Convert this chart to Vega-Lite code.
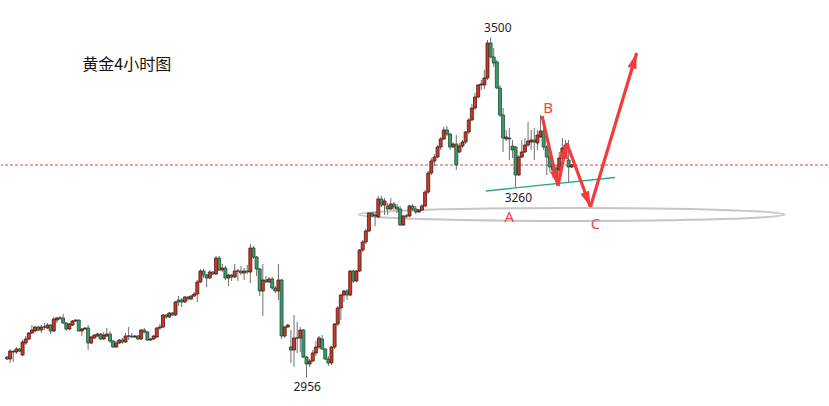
{
"$schema": "https://vega.github.io/schema/vega-lite/v6.json",
"width": 829, "height": 406,
"autosize": {"type": "fit", "contains": "padding"},
"padding": 0,
"background": "white",
"config": {"view": {"stroke": null}},
"datasets": {
"candles": [
{"i":0,"o":2988.8,"h":2990.4,"l":2984,"c":2985.6},
{"i":1,"o":2985.6,"h":3001.6,"l":2979.2,"c":2998.4},
{"i":2,"o":2996.8,"h":3000,"l":2980.8,"c":2997.6},
{"i":3,"o":2996.8,"h":3004.8,"l":2993.6,"c":3001.6},
{"i":4,"o":3001.6,"h":3003.2,"l":2996.8,"c":2998.4},
{"i":5,"o":2992,"h":3016,"l":2990.4,"c":3012.8},
{"i":6,"o":3011.2,"h":3022.4,"l":3008,"c":3017.6},
{"i":7,"o":3017.6,"h":3028.8,"l":3016,"c":3027.2},
{"i":8,"o":3027.2,"h":3040,"l":3025.6,"c":3032},
{"i":9,"o":3030.4,"h":3038.4,"l":3028.8,"c":3036.8},
{"i":10,"o":3036.8,"h":3038.4,"l":3030.4,"c":3032},
{"i":11,"o":3032,"h":3040,"l":3027.2,"c":3036.8},
{"i":12,"o":3036.8,"h":3043.2,"l":3032,"c":3036.8},
{"i":13,"o":3035.2,"h":3043.2,"l":3033.6,"c":3040},
{"i":14,"o":3040,"h":3041.6,"l":3025.6,"c":3030.4},
{"i":15,"o":3030.4,"h":3052.8,"l":3028.8,"c":3049.6},
{"i":16,"o":3048,"h":3052.8,"l":3043.2,"c":3051.2},
{"i":17,"o":3051.2,"h":3054.4,"l":3048,"c":3051.2},
{"i":18,"o":3051.2,"h":3057.6,"l":3041.6,"c":3043.2},
{"i":19,"o":3043.2,"h":3044.8,"l":3030.4,"c":3033.6},
{"i":20,"o":3033.6,"h":3043.2,"l":3032,"c":3041.6},
{"i":21,"o":3040,"h":3048,"l":3038.4,"c":3046.4},
{"i":22,"o":3046.4,"h":3048.8,"l":3044.8,"c":3048},
{"i":23,"o":3048,"h":3048.8,"l":3029.6,"c":3030.4},
{"i":24,"o":3030.4,"h":3035.2,"l":3022.4,"c":3033.6},
{"i":25,"o":3033.6,"h":3036.8,"l":3032,"c":3035.2},
{"i":26,"o":3035.2,"h":3040,"l":3000,"c":3011.2},
{"i":27,"o":3011.2,"h":3022.4,"l":3009.6,"c":3020.8},
{"i":28,"o":3019.2,"h":3025.6,"l":3017.6,"c":3024},
{"i":29,"o":3022.4,"h":3027.2,"l":3020.8,"c":3025.6},
{"i":30,"o":3025.6,"h":3027.2,"l":3016,"c":3017.6},
{"i":31,"o":3017.6,"h":3028.8,"l":3016,"c":3024},
{"i":32,"o":3022.4,"h":3035.2,"l":3020.8,"c":3025.6},
{"i":33,"o":3025.6,"h":3030.4,"l":3011.2,"c":3014.4},
{"i":34,"o":3014.4,"h":3016,"l":3003.2,"c":3004.8},
{"i":35,"o":3004.8,"h":3014.4,"l":3003.2,"c":3011.2},
{"i":36,"o":3011.2,"h":3017.6,"l":3009.6,"c":3016},
{"i":37,"o":3016,"h":3019.2,"l":3009.6,"c":3012.8},
{"i":38,"o":3012.8,"h":3027.2,"l":3011.2,"c":3022.4},
{"i":39,"o":3022.4,"h":3036.8,"l":3016,"c":3022.4},
{"i":40,"o":3022.4,"h":3027.2,"l":3019.2,"c":3020.8},
{"i":41,"o":3020.8,"h":3024,"l":3019.2,"c":3022.4},
{"i":42,"o":3022.4,"h":3024,"l":3016,"c":3017.6},
{"i":43,"o":3017.6,"h":3033.6,"l":3016,"c":3032},
{"i":44,"o":3032,"h":3035.2,"l":3027.2,"c":3028.8},
{"i":45,"o":3028.8,"h":3030.4,"l":3014.4,"c":3016},
{"i":46,"o":3016,"h":3019.2,"l":3014.4,"c":3017.6},
{"i":47,"o":3017.6,"h":3024,"l":3016,"c":3022.4},
{"i":48,"o":3020.8,"h":3036.8,"l":3019.2,"c":3035.2},
{"i":49,"o":3035.2,"h":3041.6,"l":3032,"c":3036.8},
{"i":50,"o":3036.8,"h":3057.6,"l":3035.2,"c":3056},
{"i":51,"o":3056,"h":3057.6,"l":3049.6,"c":3052.8},
{"i":52,"o":3052.8,"h":3060.8,"l":3051.2,"c":3059.2},
{"i":53,"o":3059.2,"h":3060.8,"l":3054.4,"c":3056},
{"i":54,"o":3056,"h":3078.4,"l":3054.4,"c":3076.8},
{"i":55,"o":3080,"h":3086.4,"l":3070.4,"c":3076.8},
{"i":56,"o":3080,"h":3083.2,"l":3068.8,"c":3076.8},
{"i":57,"o":3076.8,"h":3086.4,"l":3075.2,"c":3084.8},
{"i":58,"o":3084.8,"h":3086.4,"l":3078.4,"c":3081.6},
{"i":59,"o":3081.6,"h":3088,"l":3080,"c":3086.4},
{"i":60,"o":3086.4,"h":3092.8,"l":3084.8,"c":3089.6},
{"i":61,"o":3089.6,"h":3112,"l":3076.8,"c":3108.8},
{"i":62,"o":3108.8,"h":3129.6,"l":3107.2,"c":3126.4},
{"i":63,"o":3126.4,"h":3129.6,"l":3115.2,"c":3120},
{"i":64,"o":3120,"h":3121.6,"l":3100.8,"c":3115.2},
{"i":65,"o":3115.2,"h":3128,"l":3113.6,"c":3124.8},
{"i":66,"o":3124.8,"h":3126.4,"l":3120,"c":3121.6},
{"i":67,"o":3121.6,"h":3150.4,"l":3120,"c":3147.2},
{"i":68,"o":3147.2,"h":3150.4,"l":3126.4,"c":3128},
{"i":69,"o":3128,"h":3137.6,"l":3124.8,"c":3131.2},
{"i":70,"o":3131.2,"h":3134.4,"l":3112,"c":3115.2},
{"i":71,"o":3115.2,"h":3121.6,"l":3102.4,"c":3120},
{"i":72,"o":3120,"h":3121.6,"l":3110.4,"c":3116.8},
{"i":73,"o":3116.8,"h":3137.6,"l":3115.2,"c":3126.4},
{"i":74,"o":3126.4,"h":3129.6,"l":3110.4,"c":3126.4},
{"i":75,"o":3126.4,"h":3134.4,"l":3120,"c":3123.2},
{"i":76,"o":3123.2,"h":3131.2,"l":3112,"c":3126.4},
{"i":77,"o":3126.4,"h":3136,"l":3121.6,"c":3124.8},
{"i":78,"o":3124.8,"h":3169.6,"l":3107.2,"c":3163.2},
{"i":79,"o":3163.2,"h":3166.4,"l":3145.6,"c":3148.8},
{"i":80,"o":3148.8,"h":3150.4,"l":3118.4,"c":3129.6},
{"i":81,"o":3129.6,"h":3131.2,"l":3086.4,"c":3094.4},
{"i":82,"o":3094.4,"h":3137.6,"l":3054.4,"c":3112},
{"i":83,"o":3112,"h":3118.4,"l":3107.2,"c":3108.8},
{"i":84,"o":3108.8,"h":3116.8,"l":3107.2,"c":3113.6},
{"i":85,"o":3113.6,"h":3116.8,"l":3096,"c":3099.2},
{"i":86,"o":3099.2,"h":3102.4,"l":3091.2,"c":3094.4},
{"i":87,"o":3094.4,"h":3137.6,"l":3080,"c":3112},
{"i":88,"o":3112,"h":3113.6,"l":3017.6,"c":3022.4},
{"i":89,"o":3022.4,"h":3038.4,"l":3019.2,"c":3036.8},
{"i":90,"o":3036.8,"h":3041.6,"l":3035.2,"c":3040},
{"i":91,"o":3004.8,"h":3032,"l":2979.2,"c":3000},
{"i":92,"o":3000,"h":3056,"l":2972.8,"c":3019.2},
{"i":93,"o":3019.2,"h":3044.8,"l":2995.2,"c":3019.2},
{"i":94,"o":3019.2,"h":3036.8,"l":2996.8,"c":3032},
{"i":95,"o":3032,"h":3033.6,"l":2987.2,"c":2988.8},
{"i":96,"o":2988.8,"h":2990.4,"l":2956,"c":2977.6},
{"i":97,"o":2977.6,"h":2985.6,"l":2972.8,"c":2982.4},
{"i":98,"o":2982.4,"h":3000,"l":2980.8,"c":2995.2},
{"i":99,"o":2995.2,"h":3014.4,"l":2990.4,"c":3004.8},
{"i":100,"o":3004.8,"h":3022.4,"l":3001.6,"c":3019.2},
{"i":101,"o":3017.6,"h":3024,"l":3000,"c":3001.6},
{"i":102,"o":3001.6,"h":3003.2,"l":2984,"c":2985.6},
{"i":103,"o":2985.6,"h":2990.4,"l":2974.4,"c":2979.2},
{"i":104,"o":2979.2,"h":3006.4,"l":2976,"c":3004.8},
{"i":105,"o":3004.8,"h":3043.2,"l":3001.6,"c":3041.6},
{"i":106,"o":3041.6,"h":3070.4,"l":3038.4,"c":3067.2},
{"i":107,"o":3067.2,"h":3089.6,"l":3048,"c":3088},
{"i":108,"o":3088,"h":3096,"l":3076.8,"c":3094.4},
{"i":109,"o":3094.4,"h":3097.6,"l":3080,"c":3088},
{"i":110,"o":3088,"h":3128,"l":3086.4,"c":3126.4},
{"i":111,"o":3126.4,"h":3128,"l":3107.2,"c":3110.4},
{"i":112,"o":3110.4,"h":3128,"l":3108.8,"c":3126.4},
{"i":113,"o":3126.4,"h":3161.6,"l":3124.8,"c":3160},
{"i":114,"o":3160,"h":3176,"l":3156.8,"c":3172.8},
{"i":115,"o":3172.8,"h":3193.6,"l":3169.6,"c":3190.4},
{"i":116,"o":3190.4,"h":3220.8,"l":3188.8,"c":3219.2},
{"i":117,"o":3219.2,"h":3220.8,"l":3212.8,"c":3214.4},
{"i":118,"o":3214.4,"h":3220.8,"l":3198.4,"c":3216},
{"i":119,"o":3212.8,"h":3246.4,"l":3211.2,"c":3241.6},
{"i":120,"o":3241.6,"h":3246.4,"l":3228.8,"c":3232},
{"i":121,"o":3232,"h":3243.2,"l":3216,"c":3238.4},
{"i":122,"o":3230.4,"h":3235.2,"l":3216,"c":3225.6},
{"i":123,"o":3225.6,"h":3243.2,"l":3224,"c":3233.6},
{"i":124,"o":3233.6,"h":3236.8,"l":3224,"c":3228.8},
{"i":125,"o":3228.8,"h":3233.6,"l":3219.2,"c":3225.6},
{"i":126,"o":3225.6,"h":3230.4,"l":3198.4,"c":3200},
{"i":127,"o":3200,"h":3216,"l":3198.4,"c":3214.4},
{"i":128,"o":3214.4,"h":3217.6,"l":3211.2,"c":3214.4},
{"i":129,"o":3214.4,"h":3232,"l":3212.8,"c":3230.4},
{"i":130,"o":3230.4,"h":3233.6,"l":3222.4,"c":3225.6},
{"i":131,"o":3225.6,"h":3230.4,"l":3217.6,"c":3220.8},
{"i":132,"o":3220.8,"h":3225.6,"l":3219.2,"c":3224},
{"i":133,"o":3224,"h":3233.6,"l":3222.4,"c":3230.4},
{"i":134,"o":3230.4,"h":3256,"l":3228.8,"c":3252.8},
{"i":135,"o":3252.8,"h":3286.4,"l":3249.6,"c":3283.2},
{"i":136,"o":3283.2,"h":3307.2,"l":3280,"c":3302.4},
{"i":137,"o":3302.4,"h":3313.6,"l":3294.4,"c":3308.8},
{"i":138,"o":3308.8,"h":3328,"l":3307.2,"c":3324.8},
{"i":139,"o":3324.8,"h":3340.8,"l":3320,"c":3337.6},
{"i":140,"o":3337.6,"h":3356.8,"l":3336,"c":3352},
{"i":141,"o":3352,"h":3358.4,"l":3342.4,"c":3345.6},
{"i":142,"o":3345.6,"h":3347.2,"l":3320,"c":3324.8},
{"i":143,"o":3324.8,"h":3332.8,"l":3323.2,"c":3329.6},
{"i":144,"o":3329.6,"h":3344,"l":3288,"c":3296},
{"i":145,"o":3316.8,"h":3331.2,"l":3315.2,"c":3326.4},
{"i":146,"o":3326.4,"h":3336,"l":3323.2,"c":3332.8},
{"i":147,"o":3332.8,"h":3350.4,"l":3329.6,"c":3348.8},
{"i":148,"o":3348.8,"h":3371.2,"l":3345.6,"c":3368},
{"i":149,"o":3368,"h":3393.6,"l":3366.4,"c":3387.2},
{"i":150,"o":3387.2,"h":3411.2,"l":3384,"c":3404.8},
{"i":151,"o":3404.8,"h":3425.6,"l":3403.2,"c":3424},
{"i":152,"o":3424,"h":3432,"l":3416,"c":3425.6},
{"i":153,"o":3424,"h":3448,"l":3417.6,"c":3435.2},
{"i":154,"o":3435.2,"h":3496,"l":3432,"c":3491.2},
{"i":155,"o":3491.2,"h":3500,"l":3467.2,"c":3468.8},
{"i":156,"o":3468.8,"h":3483.2,"l":3452.8,"c":3459.2},
{"i":157,"o":3460.8,"h":3464,"l":3417.6,"c":3419.2},
{"i":158,"o":3419.2,"h":3424,"l":3372.8,"c":3376},
{"i":159,"o":3376,"h":3387.2,"l":3316.8,"c":3339.2},
{"i":160,"o":3337.6,"h":3352,"l":3334.4,"c":3340.8},
{"i":161,"o":3339.2,"h":3355.2,"l":3304,"c":3337.6},
{"i":162,"o":3326.4,"h":3336,"l":3307.2,"c":3320},
{"i":163,"o":3324.8,"h":3326.4,"l":3260,"c":3280},
{"i":164,"o":3280,"h":3312,"l":3278.4,"c":3308.8},
{"i":165,"o":3308.8,"h":3336,"l":3307.2,"c":3316.8},
{"i":166,"o":3316.8,"h":3339.2,"l":3315.2,"c":3328},
{"i":167,"o":3328,"h":3364.8,"l":3324.8,"c":3334.4},
{"i":168,"o":3332.8,"h":3352,"l":3320,"c":3336},
{"i":169,"o":3336,"h":3355.2,"l":3304,"c":3332.8},
{"i":170,"o":3331.2,"h":3352,"l":3320,"c":3344},
{"i":171,"o":3340.8,"h":3376,"l":3339.2,"c":3350.4},
{"i":172,"o":3350.4,"h":3360,"l":3320,"c":3324.8},
{"i":173,"o":3324.8,"h":3328,"l":3280,"c":3308.8},
{"i":174,"o":3308.8,"h":3312,"l":3284.8,"c":3292.8},
{"i":175,"o":3296,"h":3304,"l":3275.2,"c":3288},
{"i":176,"o":3291.2,"h":3296,"l":3272,"c":3280},
{"i":177,"o":3288,"h":3316.8,"l":3284.8,"c":3307.2},
{"i":178,"o":3307.2,"h":3339.2,"l":3304,"c":3323.2},
{"i":179,"o":3315.2,"h":3336,"l":3312,"c":3328},
{"i":180,"o":3304,"h":3336,"l":3268.8,"c":3292.8},
{"i":181,"o":3292.8,"h":3297.6,"l":3291.2,"c":3296}
],
"redSegments": [
{"i":171.5,"p":3374.4,"i2":176.6,"p2":3262.4},
{"i":176.6,"p":3262.4,"i2":179.4,"p2":3331.2},
{"i":179.4,"p":3331.2,"i2":187.0,"p2":3228.8},
{"i":187.0,"p":3228.8,"i2":201.8,"p2":3475.2}
],
"arrowHeads": [
{"i":176.6,"p":3262.4,"a":167},
{"i":179.4,"p":3331.2,"a":12},
{"i":187.0,"p":3228.8,"a":159},
{"i":201.8,"p":3475.2,"a":17}
],
"numberLabels": [
{"i":157.3,"p":3516,"t":"3500"},
{"i":163.9,"p":3244,"t":"3260"},
{"i":96.2,"p":2941.3,"t":"2956"}
],
"letterLabels": [
{"i":173.4,"p":3387.2,"t":"B"},
{"i":161.0,"p":3212.8,"t":"A"},
{"i":188.6,"p":3202.4,"t":"C"}
]
},
"layer": [
{
"data": {"values": [{"p": 3296}]},
"mark": {"type": "rule", "color": "#d9453a", "strokeDash": [3, 2], "strokeWidth": 1},
"encoding": {
"y": {"field": "p", "type": "quantitative", "scale": {"domain": [2910.4, 3560], "nice": false, "zero": false}, "axis": null}
}
},
{
"data": {"values": [{"i": 181.0, "p": 3216.8}]},
"mark": {"type": "point", "shape": "M1,0C1,0.0168 0.5523,0.0305 0,0.0305C-0.5523,0.0305 -1,0.0168 -1,0C-1,-0.0168 -0.5523,-0.0305 0,-0.0305C0.5523,-0.0305 1,-0.0168 1,0Z", "size": 181476, "filled": false, "stroke": "#c6c6c6", "strokeWidth": 2, "opacity": 1},
"encoding": {
"x": {"field": "i", "type": "quantitative", "scale": {"domain": [-0.316, 261.53], "nice": false, "zero": false}, "axis": null},
"y": {"field": "p", "type": "quantitative", "scale": {"domain": [2910.4, 3560], "nice": false, "zero": false}, "axis": null}
}
},
{
"data": {"name": "candles"},
"mark": {"type": "rule", "color": "#707070", "strokeWidth": 1},
"encoding": {
"x": {"field": "i", "type": "quantitative", "scale": {"domain": [-0.316, 261.53], "nice": false, "zero": false}, "axis": null},
"y": {"field": "l", "type": "quantitative", "scale": {"domain": [2910.4, 3560], "nice": false, "zero": false}, "axis": null},
"y2": {"field": "h"}
}
},
{
"data": {"name": "candles"},
"mark": {"type": "bar", "width": 3, "strokeWidth": 0.8},
"encoding": {
"x": {"field": "i", "type": "quantitative", "scale": {"domain": [-0.316, 261.53], "nice": false, "zero": false}, "axis": null},
"y": {"field": "o", "type": "quantitative", "scale": {"domain": [2910.4, 3560], "nice": false, "zero": false}, "axis": null},
"y2": {"field": "c"},
"fill": {"condition": {"test": "datum.c >= datum.o", "value": "#c63a2c"}, "value": "#3c9a6a"},
"stroke": {"condition": {"test": "datum.c >= datum.o", "value": "#4e1812"}, "value": "#1d4a32"}
}
},
{
"data": {"values": [{"i": 153.5, "p": 3254.4, "i2": 194.9, "p2": 3276}]},
"mark": {"type": "rule", "color": "#2aa88a", "strokeWidth": 1.3},
"encoding": {
"x": {"field": "i", "type": "quantitative", "scale": {"domain": [-0.316, 261.53], "nice": false, "zero": false}, "axis": null},
"y": {"field": "p", "type": "quantitative", "scale": {"domain": [2910.4, 3560], "nice": false, "zero": false}, "axis": null},
"x2": {"field": "i2"},
"y2": {"field": "p2"}
}
},
{
"data": {"name": "redSegments"},
"mark": {"type": "rule", "color": "#f03c3c", "strokeWidth": 3.2, "strokeCap": "butt"},
"encoding": {
"x": {"field": "i", "type": "quantitative", "scale": {"domain": [-0.316, 261.53], "nice": false, "zero": false}, "axis": null},
"y": {"field": "p", "type": "quantitative", "scale": {"domain": [2910.4, 3560], "nice": false, "zero": false}, "axis": null},
"x2": {"field": "i2"},
"y2": {"field": "p2"}
}
},
{
"data": {"name": "arrowHeads"},
"mark": {"type": "point", "shape": "M0,0L0.5,1.7L-0.5,1.7Z", "size": 340, "filled": true, "fill": "#f03c3c", "opacity": 1, "strokeWidth": 0},
"encoding": {
"x": {"field": "i", "type": "quantitative", "scale": {"domain": [-0.316, 261.53], "nice": false, "zero": false}, "axis": null},
"y": {"field": "p", "type": "quantitative", "scale": {"domain": [2910.4, 3560], "nice": false, "zero": false}, "axis": null},
"angle": {"field": "a", "type": "quantitative", "scale": null}
}
},
{
"data": {"name": "numberLabels"},
"mark": {"type": "text", "font": "Noto Sans", "fontSize": 12, "color": "#222222", "align": "center", "baseline": "middle"},
"encoding": {
"x": {"field": "i", "type": "quantitative", "scale": {"domain": [-0.316, 261.53], "nice": false, "zero": false}, "axis": null},
"y": {"field": "p", "type": "quantitative", "scale": {"domain": [2910.4, 3560], "nice": false, "zero": false}, "axis": null},
"text": {"field": "t"}
}
},
{
"data": {"name": "letterLabels"},
"mark": {"type": "text", "font": "Noto Sans", "fontSize": 15, "color": "#f04646", "align": "center", "baseline": "middle"},
"encoding": {
"x": {"field": "i", "type": "quantitative", "scale": {"domain": [-0.316, 261.53], "nice": false, "zero": false}, "axis": null},
"y": {"field": "p", "type": "quantitative", "scale": {"domain": [2910.4, 3560], "nice": false, "zero": false}, "axis": null},
"text": {"field": "t"}
}
},
{
"data": {"values": [{"i": 38.4, "p": 3456, "t": "黄金4小时图"}]},
"mark": {"type": "text", "font": "Noto Sans CJK SC", "fontSize": 16, "color": "#111111", "align": "center", "baseline": "middle"},
"encoding": {
"x": {"field": "i", "type": "quantitative", "scale": {"domain": [-0.316, 261.53], "nice": false, "zero": false}, "axis": null},
"y": {"field": "p", "type": "quantitative", "scale": {"domain": [2910.4, 3560], "nice": false, "zero": false}, "axis": null},
"text": {"field": "t"}
}
}
]
}
